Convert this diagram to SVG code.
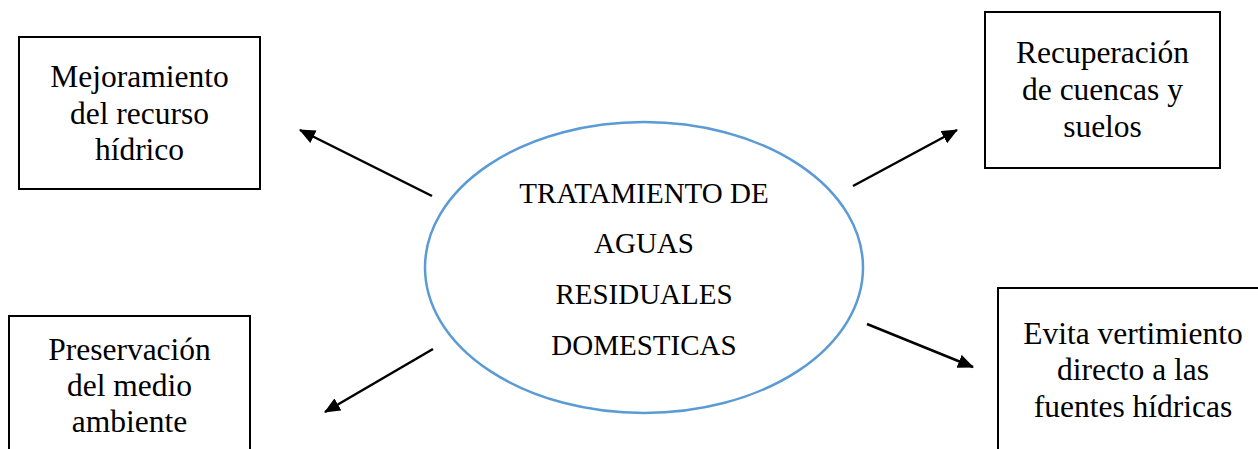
<svg xmlns="http://www.w3.org/2000/svg" width="1258" height="449" viewBox="0 0 1258 449">
<style>
.box{fill:#fff;stroke:#000;stroke-width:2}
.t{font-size:31.5px;fill:#000;text-anchor:middle}
.c{font-size:29px;fill:#000;text-anchor:middle}
.arr{stroke:#000;stroke-width:2.5;fill:none;marker-end:url(#ah)}
</style>
<defs>
<marker id="ah" markerUnits="userSpaceOnUse" markerWidth="16" markerHeight="14" refX="15" refY="7" orient="auto">
<path d="M0,0 L16,7 L0,14 Z" fill="#000"/>
</marker>
</defs>
<rect width="1258" height="449" fill="#fff"/>
<g id="connectors">
<line class="arr" x1="432" y1="196" x2="300" y2="130"/>
<line class="arr" x1="853" y1="186" x2="957" y2="130"/>
<line class="arr" x1="433" y1="349" x2="325" y2="412"/>
<line class="arr" x1="867" y1="324" x2="973" y2="367"/>
</g>
<g font-family="Liberation Serif, serif">
<g id="center">
<ellipse cx="644" cy="267.5" rx="219" ry="145.5" fill="#fff" stroke="#5B9BD5" stroke-width="2.5"/>
<text class="c" x="644" y="203">TRATAMIENTO DE</text>
<text class="c" x="644" y="253">AGUAS</text>
<text class="c" x="644" y="304">RESIDUALES</text>
<text class="c" x="644" y="355">DOMESTICAS</text>
</g>
<g id="mejoramiento">
<rect class="box" x="19" y="37" width="241" height="152"/>
<text class="t" x="139.5" y="87">Mejoramiento</text>
<text class="t" x="139.5" y="124">del recurso</text>
<text class="t" x="139.5" y="160">hídrico</text>
</g>
<g id="recuperacion">
<rect class="box" x="985" y="12" width="235" height="156"/>
<text class="t" x="1102.5" y="63">Recuperación</text>
<text class="t" x="1102.5" y="100">de cuencas y</text>
<text class="t" x="1102.5" y="137">suelos</text>
</g>
<g id="preservacion">
<rect class="box" x="9" y="316" width="241" height="150"/>
<text class="t" x="129.5" y="360">Preservación</text>
<text class="t" x="129.5" y="396">del medio</text>
<text class="t" x="129.5" y="432">ambiente</text>
</g>
<g id="evita">
<rect class="box" x="998" y="288" width="270" height="180"/>
<text class="t" x="1133" y="344">Evita vertimiento</text>
<text class="t" x="1133" y="380">directo a las</text>
<text class="t" x="1133" y="417">fuentes hídricas</text>
</g>
</g>
</svg>
